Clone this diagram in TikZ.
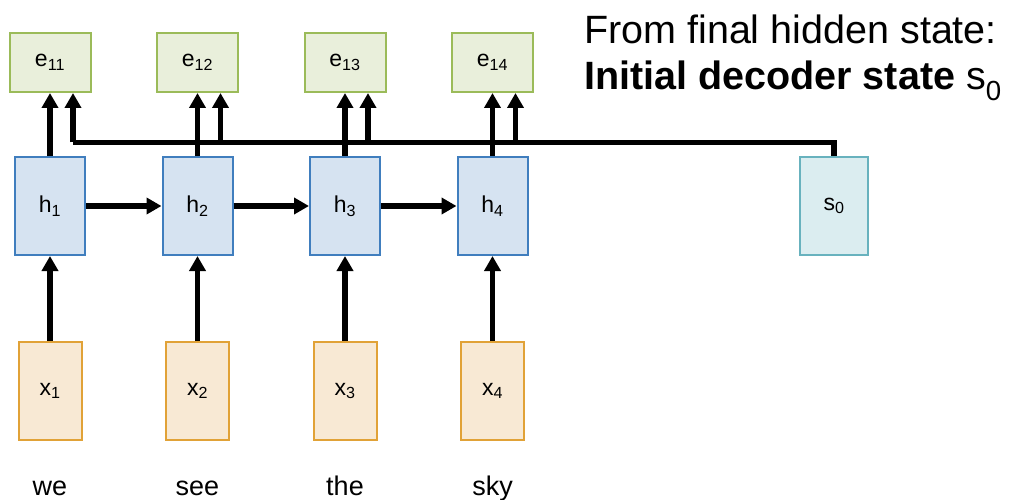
\documentclass[tikz,border=0pt]{standalone}
\usepackage{fontspec}
\setmainfont{Liberation Sans}
\usetikzlibrary{arrows.meta}

\definecolor{efill}{RGB}{233,239,219}
\definecolor{edraw}{RGB}{155,187,89}
\definecolor{hfill}{RGB}{214,227,241}
\definecolor{hdraw}{RGB}{64,126,190}
\definecolor{xfill}{RGB}{248,233,212}
\definecolor{xdraw}{RGB}{225,162,55}
\definecolor{sfill}{RGB}{219,237,240}
\definecolor{sdraw}{RGB}{104,178,190}

\newcommand{\sbs}[1]{\textsubscript{#1}}

\begin{document}
\begin{tikzpicture}[x=1pt,y=-1pt,
  box/.style={rectangle, line width=2pt, inner sep=0pt, align=center,
    font=\fontsize{23}{27}\selectfont},
  ebox/.style={box, fill=efill, draw=edraw, minimum width=81pt, minimum height=59pt},
  hbox/.style={box, fill=hfill, draw=hdraw, minimum width=70pt, minimum height=98pt},
  xbox/.style={box, fill=xfill, draw=xdraw, minimum width=63pt, minimum height=98pt},
  sbox/.style={box, fill=sfill, draw=sdraw, minimum width=68pt, minimum height=98pt},
  word/.style={inner sep=0pt, anchor=base, font=\fontsize{27}{32}\selectfont},
  arr/.style={line width=5.5pt, -{Triangle[length=15pt,width=16pt]}},
  wire/.style={line width=5.5pt}
]
\useasboundingbox (0,0) rectangle (1010,500);

% encoder columns
\foreach \i/\cx/\w in {1/50/we, 2/197.5/see, 3/345/the, 4/492.5/sky} {
  \node[ebox] (e\i) at (\cx,62.5) {e\sbs{1\i}};
  \node[hbox] (h\i) at (\cx,206) {h\sbs{\i}};
  \node[xbox] (x\i) at (\cx,391) {x\sbs{\i}};
  \node[word] (w\i) at (\cx,495) {\w};
}

% decoder initial state
\node[sbox] (s0) at (834,206) {s\sbs{0}};

% title
\node[inner sep=0pt, anchor=base west, font=\fontsize{39.5}{46}\selectfont]
  (t1) at (584,44) {From final hidden state:};
\node[inner sep=0pt, anchor=base west, font=\fontsize{39.5}{46}\selectfont]
  (t2) at (584,90) {\textbf{Initial decoder state} s\sbs{0}};

% inputs and recurrence
\foreach \i in {1,...,4} {
  \draw[arr] (x\i.north) -- (h\i.south);
}
\foreach \i/\j in {1/2, 2/3, 3/4} {
  \draw[arr] (h\i.east) -- (h\j.west);
}

% branch points of the s0 bus
\foreach \i in {1,...,4} {
  \coordinate (b\i) at ([xshift=23pt]e\i.south |- 0,142.5);
}

% s0 bus feeding every score
\draw[wire] (s0.north) |- (b4) -- (b1);
\foreach \i in {1,...,4} {
  \draw[arr] (b\i) -- ([xshift=23pt]e\i.south);
}

% hidden states feeding the scores
\foreach \i in {1,...,4} {
  \draw[arr] (h\i.north) -- (e\i.south);
}
\end{tikzpicture}
\end{document}
